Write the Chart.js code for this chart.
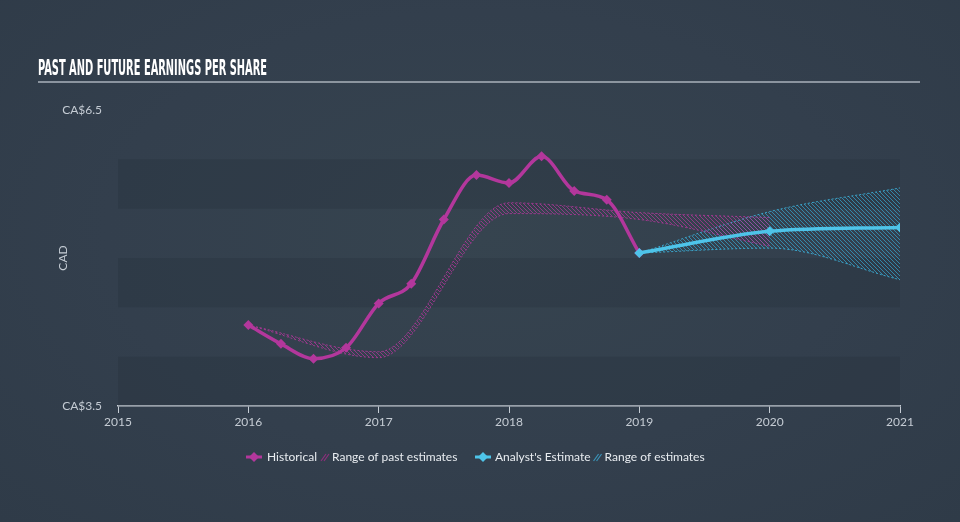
<!DOCTYPE html>
<html>
<head>
<meta charset="utf-8">
<script src="https://cdn.jsdelivr.net/npm/chart.js"></script>
<style>
  html, body { margin: 0; padding: 0; }
  body {
    width: 960px; height: 522px; overflow: hidden;
    background: radial-gradient(ellipse at 50% 45%, #36444f 0%, #333f4d 55%, #2f3b48 100%);
  }
</style>
</head>
<body>
<canvas id="epsChart" width="960" height="522"></canvas>
<script>
const histX = [2016, 2016.25, 2016.5, 2016.75, 2017, 2017.25, 2017.5, 2017.75, 2018, 2018.25, 2018.5, 2018.75, 2019];
const histEps = [4.32, 4.13, 3.98, 4.09, 4.54, 4.74, 5.39, 5.84, 5.76, 6.03, 5.68, 5.59, 5.05];

const pastRangeX = [2016, 2017, 2018, 2019, 2020];
const pastRangeHigh = [4.32, 4.05, 5.56, 5.46, 5.41];
const pastRangeLow = [4.32, 3.99, 5.45, 5.39, 5.12];

const estX = [2019, 2020, 2021];
const estEps = [5.05, 5.27, 5.31];
const estHigh = [5.05, 5.47, 5.71];
const estLow = [5.05, 5.10, 4.78];

const yearTicks = [2015, 2016, 2017, 2018, 2019, 2020, 2021];
const yTicks = [3.5, 6.5];
const bandRanges = [[3.5, 4.0], [4.5, 5.0], [5.5, 6.0]];

const PINK = '#b3379c';
const BLUE = '#4ec4e9';
const AXIS = '#c5ccd4';

const canvas = document.getElementById('epsChart');
const ctx = canvas.getContext('2d');

// diagonal hatch fill
const hatch = (color) => {
  const c = document.createElement('canvas');
  c.width = 4; c.height = 4;
  const g = c.getContext('2d');
  g.strokeStyle = color;
  g.lineWidth = 1;
  g.beginPath();
  g.moveTo(0, 0); g.lineTo(4, 4);
  g.moveTo(-1, 3); g.lineTo(1, 5);
  g.moveTo(3, -1); g.lineTo(5, 1);
  g.stroke();
  return ctx.createPattern(c, 'repeat');
};

const pts = (xs, ys) => xs.map((x, i) => ({ x: x, y: ys[i] }));

const bandsPlugin = {
  id: 'bands',
  beforeDatasetsDraw(chart) {
    const { ctx, chartArea, scales } = chart;
    ctx.save();
    ctx.fillStyle = 'rgba(36, 46, 58, 0.28)';
    bandRanges.forEach(([lo, hi]) => {
      const y1 = scales.y.getPixelForValue(hi);
      const y2 = scales.y.getPixelForValue(lo);
      ctx.fillRect(chartArea.left, y1, chartArea.right - chartArea.left, y2 - y1);
    });
    ctx.restore();
  }
};

const drawIconLine = (c, x, y, color) => {
  c.strokeStyle = color;
  c.lineWidth = 3;
  c.beginPath(); c.moveTo(x, y); c.lineTo(x + 16, y); c.stroke();
  c.fillStyle = color;
  c.beginPath();
  c.moveTo(x + 8, y - 5); c.lineTo(x + 13, y); c.lineTo(x + 8, y + 5); c.lineTo(x + 3, y);
  c.closePath(); c.fill();
};

const drawIconHatch = (c, x, y, color) => {
  c.strokeStyle = color;
  c.lineWidth = 1.2;
  c.beginPath();
  c.moveTo(x, y + 4); c.lineTo(x + 5, y - 3);
  c.moveTo(x + 3, y + 4); c.lineTo(x + 8, y - 3);
  c.stroke();
};

const decorPlugin = {
  id: 'decor',
  afterDraw(chart) {
    const c = chart.ctx;
    c.save();
    // title
    const title = 'PAST AND FUTURE EARNINGS PER SHARE';
    c.font = 'bold 21px "DejaVu Sans Condensed", "DejaVu Sans"';
    c.fillStyle = '#ffffff';
    c.textBaseline = 'alphabetic';
    const w = c.measureText(title).width;
    c.save();
    c.translate(38, 75);
    c.scale(229 / w, 1);
    c.fillText(title, 0, 0);
    c.restore();
    c.strokeStyle = '#aab2bb';
    c.lineWidth = 1.5;
    c.beginPath(); c.moveTo(38, 82); c.lineTo(920, 82); c.stroke();

    // legend
    const ly = 457;
    const textColor = '#e8ecf0';
    c.font = '12px Lato';
    c.textBaseline = 'middle';
    let x = 246;
    drawIconLine(c, x, ly, PINK); x += 21;
    c.fillStyle = textColor;
    c.fillText('Historical', x, ly); x += c.measureText('Historical').width + 4;
    drawIconHatch(c, x, ly, '#8c2f7c'); x += 11;
    c.fillStyle = textColor;
    c.fillText('Range of past estimates', x, ly);
    x = 475;
    drawIconLine(c, x, ly, BLUE); x += 20;
    c.fillStyle = textColor;
    c.fillText("Analyst's Estimate", x, ly); x += c.measureText("Analyst's Estimate").width + 3;
    drawIconHatch(c, x, ly, '#3a93b8'); x += 11;
    c.fillStyle = textColor;
    c.fillText('Range of estimates', x, ly);
    c.restore();
  }
};

const rangeSet = (data, color, fill, pattern, order) => ({
  data: data,
  borderColor: color,
  borderWidth: 1,
  borderDash: [2, 2],
  backgroundColor: pattern,
  fill: fill,
  pointRadius: 0,
  cubicInterpolationMode: 'monotone',
  order: order
});

new Chart(canvas, {
  type: 'line',
  data: {
    datasets: [
      rangeSet(pts(pastRangeX, pastRangeHigh), 'rgba(179,55,156,0.8)', '+1', hatch('rgba(179,55,156,0.7)'), 4),
      rangeSet(pts(pastRangeX, pastRangeLow), 'rgba(179,55,156,0.8)', false, 'transparent', 4),
      rangeSet(pts(estX, estHigh), 'rgba(60,175,215,0.9)', '+1', hatch('rgba(55,160,200,0.75)'), 5),
      rangeSet(pts(estX, estLow), 'rgba(60,175,215,0.9)', false, 'transparent', 5),
      {
        data: pts(histX, histEps),
        borderColor: PINK,
        backgroundColor: PINK,
        borderWidth: 3.5,
        pointStyle: 'rectRot',
        pointRadius: 5,
        pointBorderWidth: 0,
        cubicInterpolationMode: 'monotone',
        fill: false,
        order: 1
      },
      {
        data: pts(estX, estEps),
        borderColor: BLUE,
        backgroundColor: BLUE,
        borderWidth: 3.5,
        pointStyle: 'rectRot',
        pointRadius: 5,
        pointBorderWidth: 0,
        cubicInterpolationMode: 'monotone',
        fill: false,
        order: 0
      }
    ]
  },
  options: {
    responsive: false,
    animation: false,
    layout: { padding: { top: 110, right: 60, left: 0, bottom: 86 } },
    plugins: {
      legend: { display: false },
      tooltip: { enabled: false }
    },
    scales: {
      x: {
        type: 'linear',
        min: 2015,
        max: 2021,
        afterBuildTicks: (s) => { s.ticks = yearTicks.map(v => ({ value: v })); },
        afterFit: (s) => { s.height = 30; },
        ticks: {
          color: AXIS,
          font: { family: 'Lato', size: 12 },
          padding: 2,
          maxRotation: 0,
          callback: (v) => String(v)
        },
        grid: { drawOnChartArea: false, color: AXIS, tickLength: 7 },
        border: { color: AXIS, width: 1.5 }
      },
      y: {
        min: 3.5,
        max: 6.5,
        afterBuildTicks: (s) => { s.ticks = yTicks.map(v => ({ value: v })); },
        afterFit: (s) => { s.width = 118; },
        ticks: {
          color: AXIS,
          font: { family: 'Lato', size: 12 },
          padding: 16,
          callback: (v) => 'CA$' + v
        },
        grid: { display: false, drawTicks: false },
        border: { display: false },
        title: {
          display: true,
          text: 'CAD',
          color: AXIS,
          font: { family: 'Lato', size: 12 },
          padding: { top: 56, bottom: 0 }
        }
      }
    }
  },
  plugins: [bandsPlugin, decorPlugin]
});
</script>
</body>
</html>
